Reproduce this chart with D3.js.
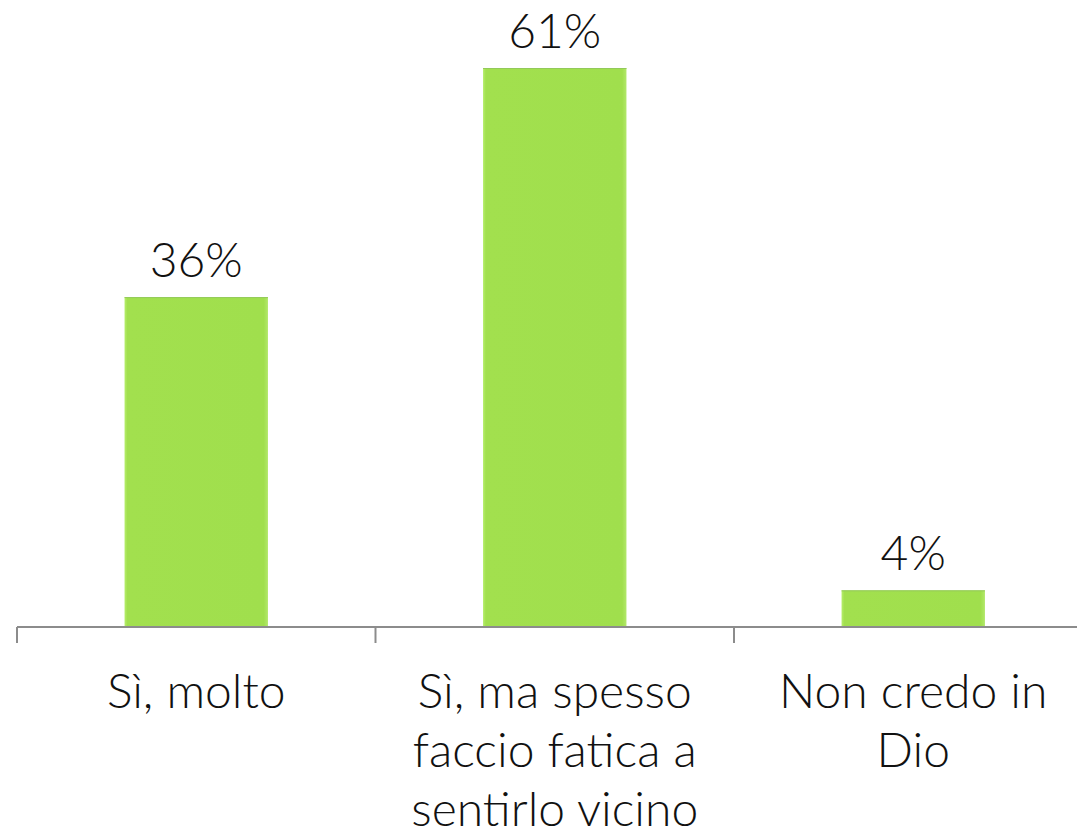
<!DOCTYPE html>
<html>
<head>
<meta charset="utf-8">
<script src="https://cdn.jsdelivr.net/npm/d3@7/dist/d3.min.js"></script>
<style>
  html, body { margin: 0; padding: 0; background: #ffffff; }
  svg { display: block; }
  text { font-family: "Lato Light", "Lato Hairline", Lato, "Open Sans", sans-serif; font-weight: 300; fill: #111; }
</style>
</head>
<body>
<svg id="chart" width="1077" height="838"></svg>
<script>
const categories = ["Sì, molto", "Sì, ma spesso faccio fatica a sentirlo vicino", "Non credo in Dio"];
const values = [36, 61, 4];
const valueLabels = ["36%", "61%", "4%"];

const W = 1077, H = 838;
const svg = d3.select("#chart");

const margin = { left: 17, top: 68, baseline: 627 };
const bandW = 358.5;
const x = d3.scaleBand()
  .domain(categories)
  .range([margin.left, margin.left + bandW * 3])
  .paddingInner(0.6)
  .paddingOuter(0.3);
const y = d3.scaleLinear().domain([0, 61]).range([margin.baseline, margin.top]);

// gradient for bars
const defs = svg.append("defs");
const g = defs.append("linearGradient").attr("id", "barGrad").attr("x1", "0").attr("x2", "1").attr("y1", "0").attr("y2", "0");
g.append("stop").attr("offset", "0%").attr("stop-color", "#b6ee6c");
g.append("stop").attr("offset", "2%").attr("stop-color", "#a2e04e");
g.append("stop").attr("offset", "97%").attr("stop-color", "#a0df4d");
g.append("stop").attr("offset", "100%").attr("stop-color", "#b2e86a");

// bars
svg.selectAll("rect.bar")
  .data(values)
  .join("rect")
  .attr("class", "bar")
  .attr("x", (d, i) => x(categories[i]))
  .attr("width", x.bandwidth())
  .attr("y", d => y(d))
  .attr("height", d => y(0) - y(d))
  .attr("fill", "url(#barGrad)");

// top edge
svg.selectAll("line.top")
  .data(values)
  .join("line")
  .attr("x1", (d, i) => x(categories[i]))
  .attr("x2", (d, i) => x(categories[i]) + x.bandwidth())
  .attr("y1", d => y(d) + 0.5)
  .attr("y2", d => y(d) + 0.5)
  .attr("stroke", "#93c95a")
  .attr("stroke-width", 1);

// axis
const axisG = svg.append("g");
axisG.append("line")
  .attr("x1", margin.left).attr("x2", W)
  .attr("y1", margin.baseline).attr("y2", margin.baseline)
  .attr("stroke", "#8c8c8c").attr("stroke-width", 2);
const tickPos = d3.range(0, 4).map(i => margin.left + bandW * i);
axisG.selectAll("line.tick")
  .data(tickPos)
  .join("line")
  .attr("x1", d => d).attr("x2", d => d)
  .attr("y1", margin.baseline).attr("y2", margin.baseline + 16)
  .attr("stroke", "#8c8c8c").attr("stroke-width", 2);

// value labels
svg.selectAll("text.val")
  .data(values)
  .join("text")
  .attr("class", "val")
  .attr("x", (d, i) => x(categories[i]) + x.bandwidth() / 2)
  .attr("y", d => y(d) - 20)
  .attr("text-anchor", "middle")
  .attr("font-size", 48)
  .text((d, i) => valueLabels[i]);

// category labels with wrapping
const maxW = 330;
const lineH = 59;
categories.forEach((c, i) => {
  const cx = margin.left + bandW * i + bandW / 2;
  const t = svg.append("text")
    .attr("x", cx).attr("y", 708)
    .attr("text-anchor", "middle")
    .attr("font-size", 48);
  const words = c.split(" ");
  let line = [];
  let tspan = t.append("tspan").attr("x", cx).attr("dy", 0);
  words.forEach(w => {
    line.push(w);
    tspan.text(line.join(" "));
    if (tspan.node().getComputedTextLength() > maxW && line.length > 1) {
      line.pop();
      tspan.text(line.join(" "));
      line = [w];
      tspan = t.append("tspan").attr("x", cx).attr("dy", lineH).text(w);
    }
  });
});
</script>
</body>
</html>
